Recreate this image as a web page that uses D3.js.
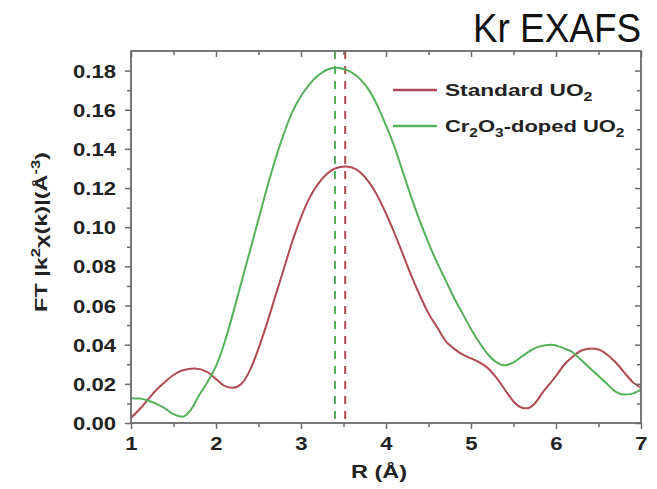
<!DOCTYPE html>
<html><head><meta charset="utf-8">
<script src="https://cdn.jsdelivr.net/npm/d3@7"></script>
<style>body{margin:0;background:#fff}svg{display:block}</style>
</head><body>
<svg id="c" width="657" height="489"></svg>
<script>
const xTicks = [1,2,3,4,5,6,7];
const yTicks = [0.00,0.02,0.04,0.06,0.08,0.10,0.12,0.14,0.16,0.18];
const standardR = [1.0,1.1,1.2,1.3,1.4,1.5,1.6,1.75,1.9,2.0,2.1,2.2,2.3,2.4,2.5,2.6,2.7,2.8,2.9,3.0,3.1,3.2,3.3,3.4,3.52,3.6,3.7,3.8,3.9,4.0,4.1,4.2,4.3,4.4,4.5,4.6,4.7,4.8,4.9,5.0,5.1,5.2,5.3,5.4,5.5,5.6,5.66,5.75,5.85,6.0,6.1,6.2,6.3,6.42,6.5,6.6,6.7,6.8,6.9,7.0];
const standardV = [0.0026,0.007,0.012,0.017,0.021,0.0245,0.0268,0.0278,0.026,0.0225,0.019,0.018,0.020,0.027,0.038,0.051,0.065,0.079,0.093,0.105,0.115,0.122,0.127,0.130,0.131,0.1305,0.128,0.123,0.116,0.107,0.097,0.086,0.075,0.065,0.056,0.049,0.042,0.038,0.035,0.033,0.031,0.028,0.023,0.017,0.011,0.0078,0.0075,0.010,0.016,0.024,0.030,0.034,0.037,0.038,0.0375,0.035,0.031,0.026,0.021,0.018];
const dopedR = [1.0,1.1,1.2,1.3,1.4,1.5,1.6,1.7,1.8,1.9,2.0,2.1,2.2,2.3,2.4,2.5,2.6,2.7,2.8,2.9,3.0,3.1,3.2,3.3,3.42,3.5,3.6,3.7,3.8,3.9,4.0,4.1,4.2,4.3,4.4,4.5,4.6,4.7,4.8,4.9,5.0,5.1,5.2,5.3,5.4,5.5,5.6,5.7,5.8,5.95,6.1,6.2,6.3,6.4,6.5,6.6,6.7,6.8,6.9,7.0];
const dopedV = [0.0127,0.0125,0.0115,0.0098,0.0075,0.0045,0.0032,0.0065,0.014,0.021,0.029,0.041,0.056,0.072,0.088,0.104,0.120,0.135,0.148,0.159,0.167,0.173,0.1775,0.1803,0.1815,0.1808,0.179,0.1755,0.170,0.162,0.152,0.141,0.128,0.115,0.103,0.092,0.082,0.073,0.064,0.056,0.048,0.041,0.035,0.031,0.0295,0.031,0.034,0.037,0.039,0.040,0.038,0.036,0.032,0.028,0.024,0.020,0.016,0.0145,0.015,0.017];
const peakR = [3.52, 3.40];
const colors = ["#b04a52", "#55b05a"];

const svg = d3.select("#c");
const L=131, R=641, T=51, B=423;
const x = d3.scaleLinear().domain([1,7]).range([L,R]);
const y = d3.scaleLinear().domain([0,0.19]).range([B,T]);
const axisCol = "#6a6a6a";
const font = "'Liberation Sans', Arial, sans-serif";

// stretch a text element horizontally (in its own frame) around anchor ax to width w
function stretch(sel, ax, ay, w){
  const bw = sel.node().getBBox().width;
  const s = w / bw;
  sel.attr("transform", `translate(${ax},${ay}) scale(${s},1) translate(${-ax},${-ay})`);
  return s;
}

// title
svg.append("text").attr("x",641).attr("y",42).attr("text-anchor","end")
  .attr("font-family","'Liberation Sans Narrow','Arial Narrow','Liberation Sans',sans-serif")
  .attr("font-size",40).attr("fill","#111").attr("textLength",168).attr("lengthAdjust","spacingAndGlyphs").text("Kr EXAFS");

// dashed peak lines
peakR.forEach((p,i)=>{
  svg.append("line").attr("x1",x(p)).attr("x2",x(p)).attr("y1",T).attr("y2",B)
    .attr("stroke",colors[i]).attr("stroke-width",2).attr("stroke-dasharray","8,7");
});

// curves
const line = d3.line().x(d=>x(d[0])).y(d=>y(d[1])).curve(d3.curveMonotoneX);
svg.append("path").datum(standardR.map((r,i)=>[r,standardV[i]])).attr("d",line)
  .attr("fill","none").attr("stroke",colors[0]).attr("stroke-width",2);
svg.append("path").datum(dopedR.map((r,i)=>[r,dopedV[i]])).attr("d",line)
  .attr("fill","none").attr("stroke",colors[1]).attr("stroke-width",2);

// axes
const minorX = d3.range(1.5,7,1);
const minorY = d3.range(0.01,0.19,0.02);
const gB = svg.append("g").attr("transform",`translate(0,${B})`)
  .call(d3.axisBottom(x).tickValues(xTicks).tickSize(6).tickFormat(d3.format("d")));
const gB2 = svg.append("g").attr("transform",`translate(0,${B})`)
  .call(d3.axisBottom(x).tickValues(minorX).tickSize(4).tickFormat(""));
const gL = svg.append("g").attr("transform",`translate(${L},0)`)
  .call(d3.axisLeft(y).tickValues(yTicks).tickSize(6).tickFormat(d3.format(".2f")));
const gL2 = svg.append("g").attr("transform",`translate(${L},0)`)
  .call(d3.axisLeft(y).tickValues(minorY).tickSize(4).tickFormat(""));
const gT = svg.append("g").attr("transform",`translate(0,${T})`)
  .call(d3.axisBottom(x).tickValues(xTicks).tickSize(6).tickFormat(""));
const gT2 = svg.append("g").attr("transform",`translate(0,${T})`)
  .call(d3.axisBottom(x).tickValues(minorX).tickSize(4).tickFormat(""));
const gR = svg.append("g").attr("transform",`translate(${R},0)`)
  .call(d3.axisLeft(y).tickValues(yTicks).tickSize(6).tickFormat(""));
const gR2 = svg.append("g").attr("transform",`translate(${R},0)`)
  .call(d3.axisLeft(y).tickValues(minorY).tickSize(4).tickFormat(""));
[gB,gB2,gL,gL2,gT,gT2,gR,gR2].forEach(g=>{
  g.select(".domain").remove();
  g.selectAll("line").attr("stroke",axisCol).attr("stroke-width",1.5);
  g.selectAll("text").attr("font-family",font).attr("font-weight","bold").attr("font-size",18).attr("fill","#222");
});
gB.selectAll("text").attr("dy",0).attr("y",27);
gL.selectAll("text").attr("x",-15).attr("dy","0.36em");
// horizontal stretch of tick labels to match reference glyph widths
const first = gL.select("text");
const sTick = 43 / first.node().getBBox().width;
gL.selectAll("text").attr("transform",`translate(-15,0) scale(${sTick},1) translate(15,0)`);
gB.selectAll("text").attr("transform",`scale(${sTick},1)`);
svg.append("rect").attr("x",L).attr("y",T).attr("width",R-L).attr("height",B-T)
  .attr("fill","none").attr("stroke",axisCol).attr("stroke-width",1.8);

// axis titles
const xt = svg.append("text").attr("x",379).attr("y",478).attr("text-anchor","middle")
  .attr("font-family",font).attr("font-weight","bold").attr("font-size",18).attr("fill","#222").text("R (Å)");
stretch(xt, 379, 478, 56);
const ytg = svg.append("g").attr("transform","translate(47,232) rotate(-90)");
const yt = ytg.append("text").attr("x",0).attr("y",0).attr("text-anchor","middle")
  .attr("font-family",font).attr("font-weight","bold").attr("font-size",17).attr("fill","#222");
yt.append("tspan").text("FT |k");
yt.append("tspan").attr("dy",-7).attr("font-size",12).text("2");
yt.append("tspan").attr("dy",7).text("χ(k)|(Å");
yt.append("tspan").attr("dy",-7).attr("font-size",12).text("-3");
yt.append("tspan").attr("dy",7).text(")");
stretch(yt, 0, 0, 160);

// legend
const legY = [90,126];
const legW = [148,180];
legY.forEach((ly,i)=>{
  svg.append("line").attr("x1",393).attr("x2",437).attr("y1",ly).attr("y2",ly)
    .attr("stroke",colors[i]).attr("stroke-width",2.4);
  const t = svg.append("text").attr("x",445).attr("y",ly+6).attr("font-family",font)
    .attr("font-weight","bold").attr("font-size",17).attr("fill","#222");
  if(i===0){
    t.append("tspan").text("Standard UO");
    t.append("tspan").attr("dy",5).attr("font-size",12).text("2");
  } else {
    t.append("tspan").text("Cr");
    t.append("tspan").attr("dy",5).attr("font-size",12).text("2");
    t.append("tspan").attr("dy",-5).text("O");
    t.append("tspan").attr("dy",5).attr("font-size",12).text("3");
    t.append("tspan").attr("dy",-5).text("-doped UO");
    t.append("tspan").attr("dy",5).attr("font-size",12).text("2");
  }
  stretch(t, 445, ly+6, legW[i]);
});
</script>
</body></html>
